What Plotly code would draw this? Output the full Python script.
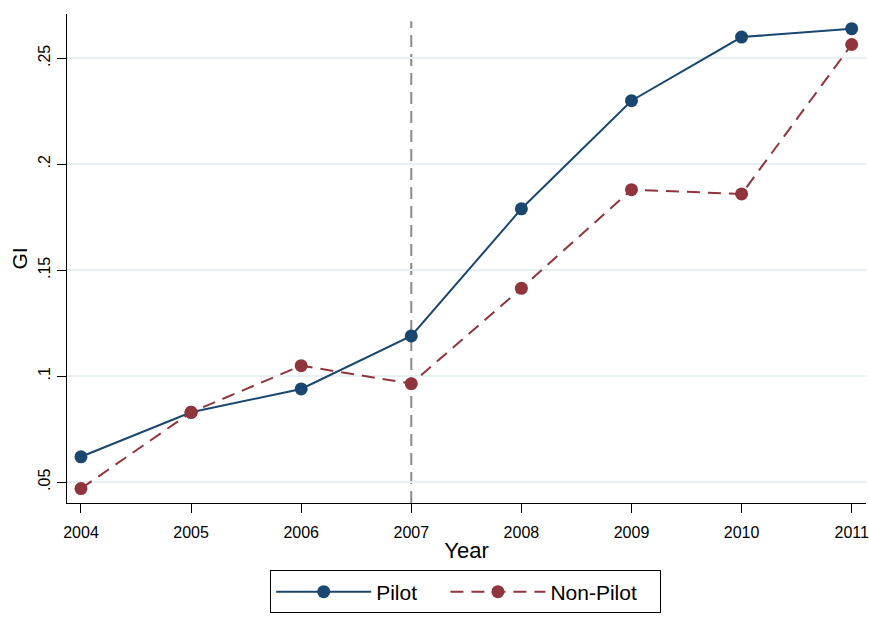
import plotly.graph_objects as go

years = [2004, 2005, 2006, 2007, 2008, 2009, 2010, 2011]
pilot = [0.062, 0.083, 0.094, 0.119, 0.179, 0.230, 0.260, 0.264]
non_pilot = [0.047, 0.083, 0.105, 0.0965, 0.1415, 0.188, 0.186, 0.2565]
ytick_vals = [0.05, 0.10, 0.15, 0.20, 0.25]
ytick_text = [".05", ".1", ".15", ".2", ".25"]
policy_year = 2007
series_names = ["Pilot", "Non-Pilot"]

navy = "#1a476f"
maroon = "#90353b"
font_family = "Liberation Sans, Arial, sans-serif"
NB = "\u00a0"

fig = go.Figure()
fig.add_trace(go.Scatter(
    x=years, y=pilot, name=series_names[0] + NB * 4, mode="lines+markers",
    line=dict(color=navy, width=2),
    marker=dict(color=navy, size=13),
))
fig.add_trace(go.Scatter(
    x=years, y=non_pilot, name=series_names[1] + NB * 3, mode="lines+markers",
    line=dict(color=maroon, width=2, dash="13px,8px"),
    marker=dict(color=maroon, size=13),
))

fig.add_shape(type="line", x0=policy_year, x1=policy_year, xref="x",
              y0=0, y1=0.985, yref="paper",
              line=dict(color="#8a8a8a", width=2, dash="12px,7px"), layer="below")

fig.update_layout(
    width=869, height=617,
    margin=dict(l=67, r=3, t=14, b=108),
    paper_bgcolor="white", plot_bgcolor="white",
    font=dict(family=font_family, color="black", size=16),
    showlegend=True,
    legend=dict(
        orientation="h", x=0.499, xanchor="center", y=-0.138, yanchor="top",
        bordercolor="black", borderwidth=1, bgcolor="white",
        font=dict(size=21, family=font_family), itemwidth=95,
        traceorder="normal",
    ),
    xaxis=dict(
        range=[2003.873, 2011.13], tickvals=years, ticktext=[str(y) for y in years],
        showgrid=False, zeroline=False, automargin=False,
        showline=True, linecolor="black", linewidth=1.3,
        ticks="outside", ticklen=9, tickwidth=1.3, tickcolor="black",
        tickfont=dict(size=16), ticklabelstandoff=6,
        title=dict(text="Year", font=dict(size=22), standoff=2),
    ),
    yaxis=dict(
        range=[0.0402, 0.2709], tickvals=ytick_vals, ticktext=ytick_text,
        tickangle=-90, automargin=False,
        showgrid=True, gridcolor="#e6eff1", gridwidth=1.5,
        zeroline=False,
        showline=True, linecolor="black", linewidth=1.3,
        ticks="outside", ticklen=9, tickwidth=1.3, tickcolor="black",
        tickfont=dict(size=16),
        title=dict(text="GI", font=dict(size=21), standoff=3),
    ),
)

fig.write_html("out.html", config={"displayModeBar": False},
               post_script="document.body.style.margin='0';")
